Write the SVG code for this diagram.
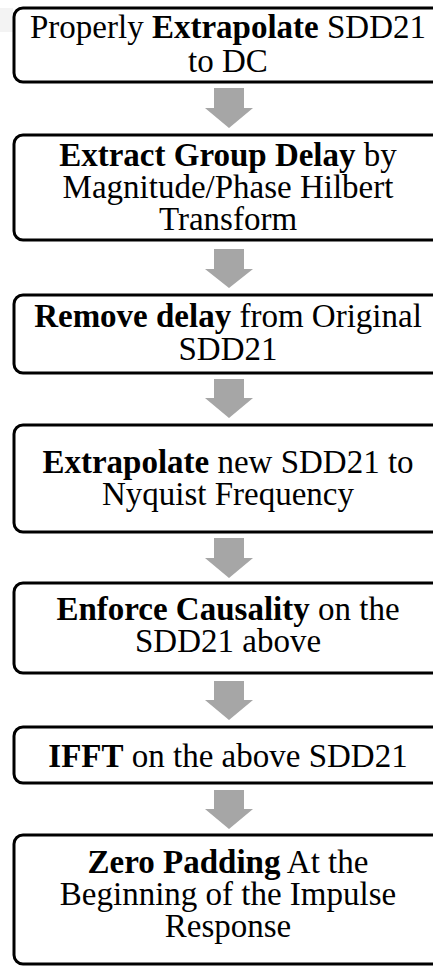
<svg xmlns="http://www.w3.org/2000/svg" width="433" height="967" viewBox="0 0 433 967">
<style>
.box{fill:#fff;stroke:#000;stroke-width:3}
.t{font-family:"Liberation Serif","Times New Roman",serif;font-size:33px;fill:#000;text-anchor:middle}
.b{font-weight:bold}
.arr{fill:#a6a6a6}
</style>
<rect x="0" y="8" width="13" height="24" fill="#f3f3f3"/>
<g id="connectors">
<polygon class="arr" points="214,88 244,88 244,108 253,108 229,128 205,108 214,108"/>
<polygon class="arr" points="214,249 244,249 244,269 253,269 229,288 205,269 214,269"/>
<polygon class="arr" points="214,379 244,379 244,398 253,398 229,418 205,398 214,398"/>
<polygon class="arr" points="214,538 244,538 244,558 253,558 229,578 205,558 214,558"/>
<polygon class="arr" points="214,681 244,681 244,700 253,700 229,720 205,700 214,700"/>
<polygon class="arr" points="214,790 244,790 244,809 253,809 229,829 205,809 214,809"/>
</g>
<g id="n1">
<rect class="box" x="14" y="8" width="430" height="74" rx="9"/>
<text class="t" x="228" y="38">Properly <tspan class="b">Extrapolate</tspan> SDD21<tspan x="228" y="72">to DC</tspan></text>
</g>
<g id="n2">
<rect class="box" x="14" y="135" width="430" height="105" rx="9"/>
<text class="t" x="228" y="166"><tspan class="b">Extract Group Delay</tspan> by<tspan x="228" y="198">Magnitude/Phase Hilbert</tspan><tspan x="228" y="230">Transform</tspan></text>
</g>
<g id="n3">
<rect class="box" x="14" y="295" width="430" height="78" rx="9"/>
<text class="t" x="228" y="327"><tspan class="b">Remove delay</tspan> from Original<tspan x="228" y="360">SDD21</tspan></text>
</g>
<g id="n4">
<rect class="box" x="14" y="425" width="430" height="107" rx="9"/>
<text class="t" x="228" y="473"><tspan class="b">Extrapolate</tspan> new SDD21 to<tspan x="228" y="505">Nyquist Frequency</tspan></text>
</g>
<g id="n5">
<rect class="box" x="14" y="583" width="430" height="90" rx="9"/>
<text class="t" x="228" y="620"><tspan class="b">Enforce Causality</tspan> on the<tspan x="228" y="652">SDD21 above</tspan></text>
</g>
<g id="n6">
<rect class="box" x="14" y="727" width="430" height="56" rx="9"/>
<text class="t" x="228" y="767"><tspan class="b">IFFT</tspan> on the above SDD21</text>
</g>
<g id="n7">
<rect class="box" x="14" y="835" width="430" height="129" rx="9"/>
<text class="t" x="228" y="873"><tspan class="b">Zero Padding</tspan> At the<tspan x="228" y="905">Beginning of the Impulse</tspan><tspan x="228" y="937">Response</tspan></text>
</g>
</svg>
